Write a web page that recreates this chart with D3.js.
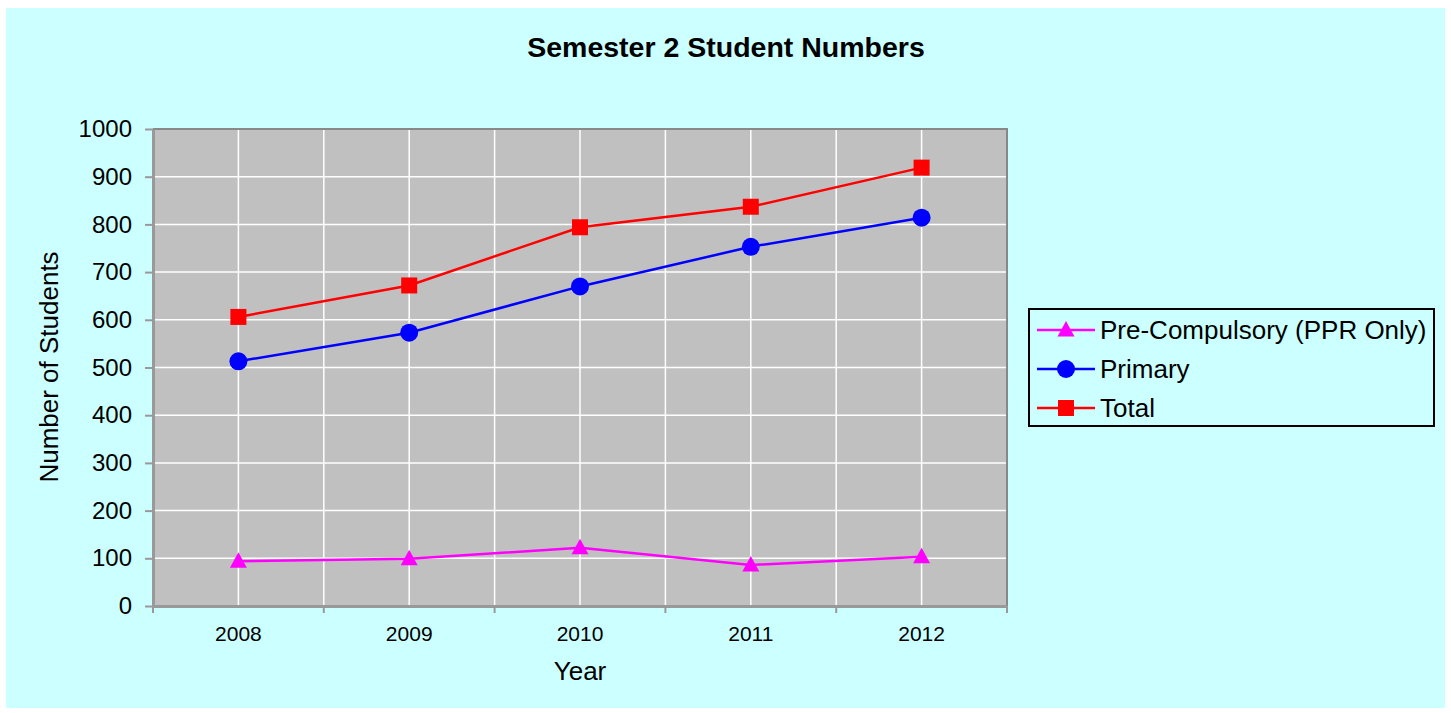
<!DOCTYPE html>
<html lang="en">
<head>
    <meta charset="UTF-8">
    <script src="https://cdn.jsdelivr.net/npm/d3@7"></script>
    <title>Semester 2 Student Numbers</title>
    <style>
        body { margin: 0; background: #fff; }
        text { font-family: Arial, "Liberation Sans", sans-serif; fill: #000; }
    </style>
</head>
<body>
    <svg></svg>
    <script>
        const years = ['2008', '2009', '2010', '2011', '2012'];
        const preCompulsory = [94, 99, 122, 86, 103];
        const primary = [513, 573, 670, 753, 814];
        const total = [606, 672, 794, 837, 919];
        const yTicks = [0, 100, 200, 300, 400, 500, 600, 700, 800, 900, 1000];

        const series = [
            { name: 'Pre-Compulsory (PPR Only)', values: preCompulsory, color: '#ff00ff', shape: 'triangle' },
            { name: 'Primary', values: primary, color: '#0000ff', shape: 'circle' },
            { name: 'Total', values: total, color: '#ff0000', shape: 'square' }
        ];

        const W = 1451, H = 713;
        const FONT = 'Arial, "Liberation Sans", sans-serif';
        const svg = d3.select('svg').attr('width', W).attr('height', H);

        // chart background
        svg.append('rect')
            .attr('x', 6).attr('y', 8)
            .attr('width', 1439).attr('height', 700)
            .attr('fill', '#ccffff');

        const plot = { left: 153, top: 129, right: 1007, bottom: 606 };

        const x = d3.scaleBand()
            .domain(years)
            .range([plot.left, plot.right]);

        const y = d3.scaleLinear()
            .domain([0, 1000])
            .range([plot.bottom, plot.top]);

        // plot area
        svg.append('rect')
            .attr('x', plot.left).attr('y', plot.top)
            .attr('width', plot.right - plot.left)
            .attr('height', plot.bottom - plot.top)
            .attr('fill', '#c0c0c0');

        // gridlines
        const grid = svg.append('g').attr('stroke', '#ffffff').attr('stroke-width', 1.5);
        grid.selectAll('.hg')
            .data(yTicks.slice(1, -1))
            .enter().append('line')
            .attr('x1', plot.left).attr('x2', plot.right)
            .attr('y1', d => y(d)).attr('y2', d => y(d));

        // vertical gridlines at category centres and boundaries
        const vLines = [];
        years.forEach((d, i) => {
            if (i > 0) vLines.push(x(d));
            vLines.push(x(d) + x.bandwidth() / 2);
        });
        grid.selectAll('.vg')
            .data(vLines)
            .enter().append('line')
            .attr('x1', d => d).attr('x2', d => d)
            .attr('y1', plot.top).attr('y2', plot.bottom);

        // plot border top/right
        svg.append('polyline')
            .attr('points', `${plot.left},${plot.top} ${plot.right},${plot.top} ${plot.right},${plot.bottom}`)
            .attr('fill', 'none')
            .attr('stroke', '#888888')
            .attr('stroke-width', 2);

        // y axis
        const yAxis = svg.append('g')
            .attr('transform', `translate(${plot.left},0)`)
            .call(d3.axisLeft(y).tickValues(yTicks).tickFormat(d3.format('d'))
                .tickSize(8).tickPadding(13).tickSizeOuter(0));
        yAxis.select('.domain').attr('stroke', '#999999').attr('stroke-width', 3);
        yAxis.selectAll('.tick line').attr('stroke', '#999999').attr('stroke-width', 2);
        yAxis.selectAll('.tick text').attr('font-size', 24).attr('font-family', FONT).attr('fill', '#000');

        // x axis
        const xAxis = svg.append('g')
            .attr('transform', `translate(0,${plot.bottom})`)
            .call(d3.axisBottom(x).tickSize(0).tickPadding(20));
        xAxis.select('.domain').attr('stroke', '#999999').attr('stroke-width', 3);
        xAxis.selectAll('.tick text').attr('font-size', 21).attr('font-family', FONT).attr('fill', '#000');

        // x boundary ticks
        const bounds = years.map(d => x(d)).concat([plot.right]);
        xAxis.selectAll('.btick')
            .data(bounds)
            .enter().append('line')
            .attr('x1', d => d).attr('x2', d => d)
            .attr('y1', 0).attr('y2', 7)
            .attr('stroke', '#999999').attr('stroke-width', 2);

        // titles
        svg.append('text')
            .attr('x', 726).attr('y', 57)
            .attr('text-anchor', 'middle')
            .attr('font-size', 28.5).attr('font-weight', 'bold')
            .text('Semester 2 Student Numbers');

        svg.append('text')
            .attr('x', (plot.left + plot.right) / 2).attr('y', 680)
            .attr('text-anchor', 'middle')
            .attr('font-size', 26)
            .text('Year');

        svg.append('text')
            .attr('transform', `translate(58,367) rotate(-90)`)
            .attr('text-anchor', 'middle')
            .attr('font-size', 26)
            .text('Number of Students');

        // markers
        function drawMarker(sel, shape, color) {
            if (shape === 'circle') {
                sel.append('circle').attr('r', 9).attr('fill', color);
            } else if (shape === 'square') {
                sel.append('rect').attr('x', -8).attr('y', -8).attr('width', 16).attr('height', 16).attr('fill', color);
            } else {
                sel.append('path').attr('d', 'M0,-9 L8.5,6.5 L-8.5,6.5 Z').attr('fill', color);
            }
        }

        const line = d3.line()
            .x((d, i) => x(years[i]) + x.bandwidth() / 2)
            .y(d => y(d));

        series.forEach(s => {
            svg.append('path')
                .attr('d', line(s.values))
                .attr('fill', 'none')
                .attr('stroke', s.color)
                .attr('stroke-width', 2.5);
            s.values.forEach((v, i) => {
                const g = svg.append('g')
                    .attr('transform', `translate(${x(years[i]) + x.bandwidth() / 2},${y(v)})`);
                drawMarker(g, s.shape, s.color);
            });
        });

        // legend
        const legend = svg.append('g');
        legend.append('rect')
            .attr('x', 1029).attr('y', 309)
            .attr('width', 405).attr('height', 117)
            .attr('fill', 'none')
            .attr('stroke', '#000')
            .attr('stroke-width', 2);

        series.forEach((s, i) => {
            const g = legend.append('g').attr('transform', `translate(1066,${330 + i * 39})`);
            g.append('line')
                .attr('x1', -29).attr('x2', 29)
                .attr('stroke', s.color).attr('stroke-width', 2.5);
            drawMarker(g, s.shape, s.color);
            g.append('text')
                .attr('x', 34).attr('y', 9)
                .attr('font-size', 26)
                .text(s.name);
        });
    </script>
</body>
</html>
